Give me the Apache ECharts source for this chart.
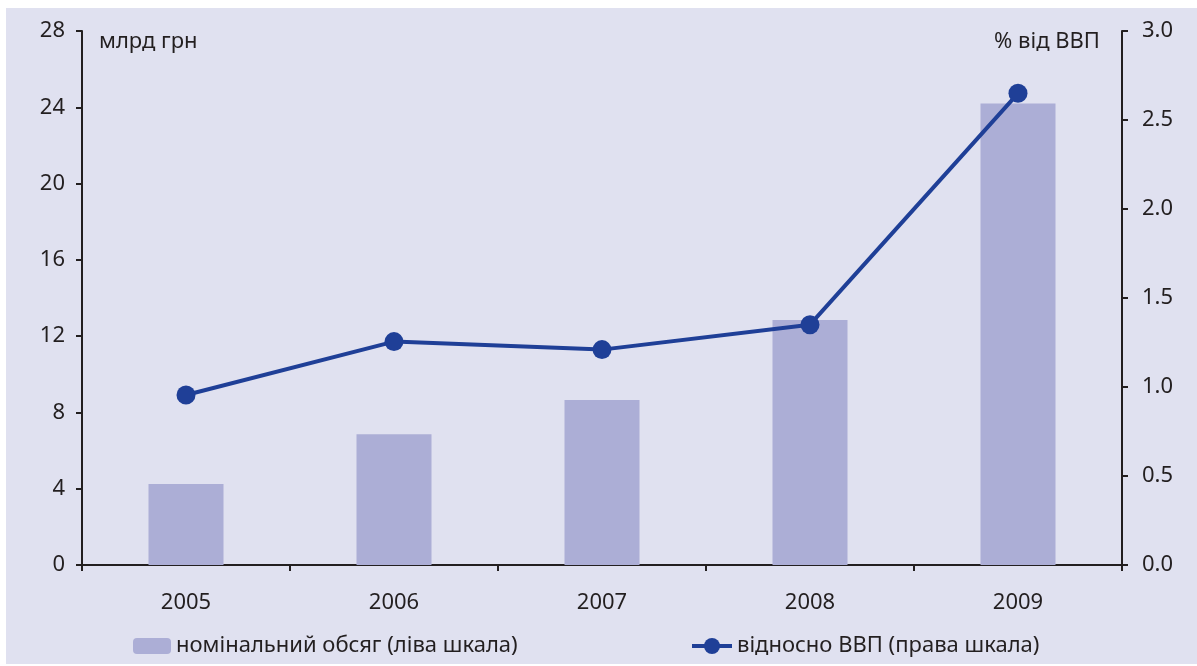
<!DOCTYPE html>
<html>
<head>
<meta charset="utf-8">
<script src="https://cdn.jsdelivr.net/npm/echarts@6/dist/echarts.min.js"></script>
<style>
  html, body { margin: 0; padding: 0; background: #ffffff; }
  #chart { width: 1197px; height: 666px; }
</style>
</head>
<body>
<div id="chart"></div>
<script>
// Years on the category axis
const years = ['2005', '2006', '2007', '2008', '2009'];
// Nominal volume, bn UAH (left scale)
const nominalVolume = [4.25, 6.85, 8.65, 12.85, 24.2];
// Share of GDP, % (right scale)
const shareOfGdp = [0.955, 1.255, 1.21, 1.35, 2.65];

const barName = 'номінальний обсяг (ліва шкала)';
const lineName = 'відносно ВВП (права шкала)';

const ink = '#231f20';
const font = '"Noto Sans", "Open Sans", sans-serif';
const fs = 22;

const chart = echarts.init(document.getElementById('chart'));
chart.setOption({
  animation: false,
  textStyle: { fontFamily: font, color: ink },
  graphic: [
    { type: 'rect', z: -10, shape: { x: 6, y: 8, width: 1191, height: 656 }, style: { fill: '#e0e1f0' } },
    { type: 'text', left: 99, top: 31, style: { text: 'млрд грн', font: fs + 'px ' + font, fill: ink } },
    { type: 'text', right: 97, top: 31, style: { text: '% від ВВП', font: fs + 'px ' + font, fill: ink, textAlign: 'right' } }
  ],
  grid: { left: 82, right: 75, top: 31, bottom: 101 },
  legend: [
    {
      data: [barName], left: 133, top: 635, padding: 0, itemWidth: 38, itemHeight: 16, itemGap: 6,
      textStyle: { fontSize: fs, color: ink, fontFamily: font }
    },
    {
      data: [lineName], left: 690, top: 635, padding: 0, itemWidth: 40, itemHeight: 20, itemGap: 6,
      lineStyle: { width: 4 },
      textStyle: { fontSize: fs, color: ink, fontFamily: font }
    }
  ],
  xAxis: {
    type: 'category',
    data: years,
    boundaryGap: true,
    axisLine: { lineStyle: { color: ink, width: 2 } },
    axisTick: { show: true, length: 6, lineStyle: { color: ink, width: 2 } },
    axisLabel: { color: ink, fontSize: fs, margin: 27, fontFamily: font }
  },
  yAxis: [
    {
      type: 'value', min: 0, max: 28, interval: 4, position: 'left',
      splitLine: { show: false },
      axisLine: { show: true, lineStyle: { color: ink, width: 2 } },
      axisTick: { show: true, length: 6, lineStyle: { color: ink, width: 2 } },
      axisLabel: { color: ink, fontSize: fs, margin: 17, fontFamily: font }
    },
    {
      type: 'value', min: 0, max: 3, interval: 0.5, position: 'right',
      splitLine: { show: false },
      axisLine: { show: true, lineStyle: { color: ink, width: 2 } },
      axisTick: { show: true, length: 6, lineStyle: { color: ink, width: 2 } },
      axisLabel: { color: ink, fontSize: fs, margin: 20, fontFamily: font, formatter: v => v.toFixed(1) }
    }
  ],
  series: [
    {
      name: barName, type: 'bar', yAxisIndex: 0, data: nominalVolume,
      barWidth: 75, itemStyle: { color: '#acaed6' }
    },
    {
      name: lineName, type: 'line', yAxisIndex: 1, data: shareOfGdp,
      symbol: 'circle', symbolSize: 19,
      lineStyle: { color: '#1f3f97', width: 4 },
      itemStyle: { color: '#1f3f97' }
    }
  ]
});
</script>
</body>
</html>
